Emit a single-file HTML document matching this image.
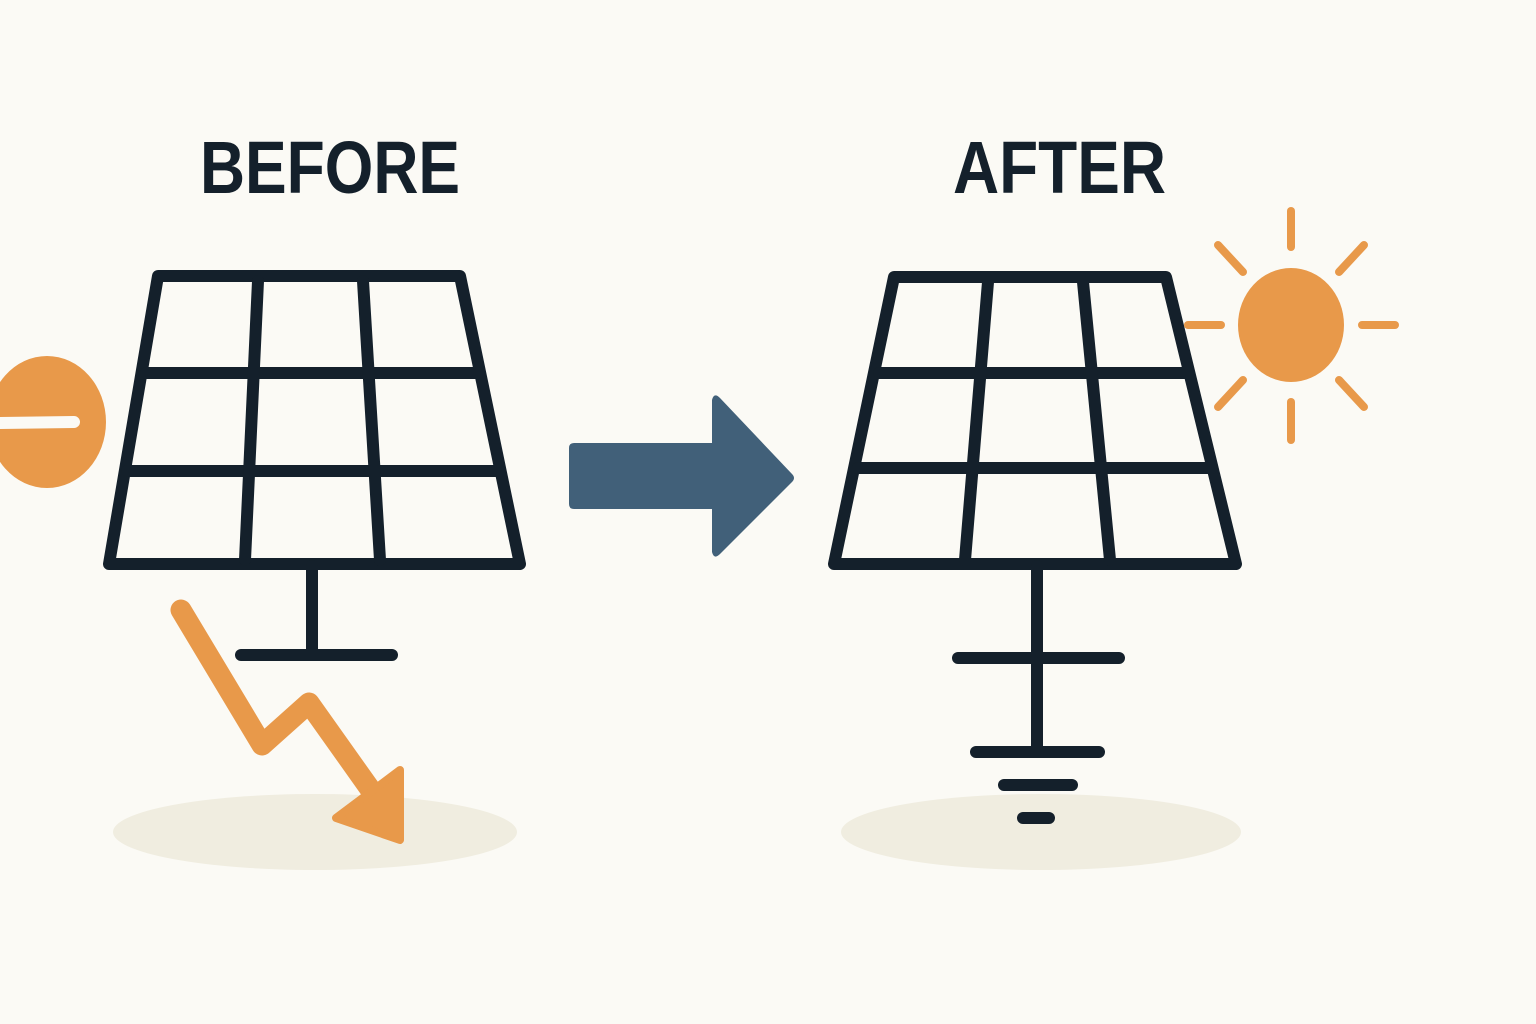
<!DOCTYPE html>
<html><head><meta charset="utf-8"><style>
html,body{margin:0;padding:0;background:#fbfaf5;}
svg{display:block}
</style></head><body>
<svg width="1536" height="1024" viewBox="0 0 1536 1024" xmlns="http://www.w3.org/2000/svg">
<rect width="1536" height="1024" fill="#fbfaf5"/>
<text x="200" y="193" font-family="Liberation Sans, sans-serif" font-weight="bold" font-size="74" fill="#14202b" textLength="260" lengthAdjust="spacingAndGlyphs">BEFORE</text>
<text x="953" y="193" font-family="Liberation Sans, sans-serif" font-weight="bold" font-size="74" fill="#14202b" textLength="213" lengthAdjust="spacingAndGlyphs">AFTER</text>

<ellipse cx="315" cy="832" rx="202" ry="38" fill="#f0ede0"/>
<ellipse cx="1041" cy="832" rx="200" ry="38" fill="#f0ede0"/>

<g fill="none" stroke="#14202b" stroke-width="12" stroke-linecap="round" stroke-linejoin="round">
  <!-- before panel -->
  <path d="M158 276 L460 276 L520 564 L109 564 Z"/>
  <line x1="146" y1="373" x2="479" y2="373"/>
  <line x1="127" y1="471" x2="500" y2="471"/>
  <line x1="258" y1="281" x2="245" y2="560"/>
  <line x1="363" y1="281" x2="380" y2="560"/>
  <line x1="312" y1="566" x2="312" y2="654"/>
  <line x1="241" y1="655" x2="392" y2="655"/>
  <!-- after panel -->
  <path d="M894 277 L1166 277 L1236 564 L834 564 Z"/>
  <line x1="879" y1="373" x2="1189" y2="373"/>
  <line x1="858" y1="468" x2="1212" y2="468"/>
  <line x1="988" y1="282" x2="965" y2="560"/>
  <line x1="1083" y1="282" x2="1110" y2="560"/>
  <line x1="1037" y1="566" x2="1037" y2="750"/>
  <line x1="958" y1="658" x2="1119" y2="658"/>
  <line x1="976" y1="752" x2="1099" y2="752"/>
  <line x1="1004" y1="785" x2="1072" y2="785"/>
  <line x1="1023" y1="818" x2="1049" y2="818"/>
</g>

<!-- minus circle -->
<ellipse cx="47" cy="422" rx="59" ry="66" fill="#e8994a"/>
<line x1="0" y1="423" x2="74" y2="422" stroke="#fbfaf5" stroke-width="12" stroke-linecap="round"/>

<!-- zigzag arrow -->
<polyline points="181,610 262,745 309,703 380,803" fill="none" stroke="#e8994a" stroke-width="21" stroke-linejoin="round" stroke-linecap="round"/>
<polygon points="336,818 400,840 400,770" fill="#e8994a" stroke="#e8994a" stroke-width="8" stroke-linejoin="round"/>

<!-- big arrow -->
<path d="M574 443 L712 443 L712 400 Q714 392 720 398 L792 474 Q796 478 792 482 L720 554 Q714 560 712 552 L712 509 L574 509 Q569 509 569 504 L569 448 Q569 443 574 443 Z" fill="#416079"/>

<!-- sun -->
<ellipse cx="1291" cy="325" rx="53" ry="57" fill="#e8994a"/>
<g stroke="#e8994a" stroke-width="8" stroke-linecap="round">
  <line x1="1291" y1="211" x2="1291" y2="247"/>
  <line x1="1291" y1="402" x2="1291" y2="440"/>
  <line x1="1188" y1="325" x2="1221" y2="325"/>
  <line x1="1362" y1="325" x2="1395" y2="325"/>
  <line x1="1218" y1="245" x2="1243" y2="272"/>
  <line x1="1364" y1="245" x2="1339" y2="272"/>
  <line x1="1218" y1="407" x2="1243" y2="380"/>
  <line x1="1364" y1="407" x2="1339" y2="380"/>
</g>
</svg>
</body></html>
